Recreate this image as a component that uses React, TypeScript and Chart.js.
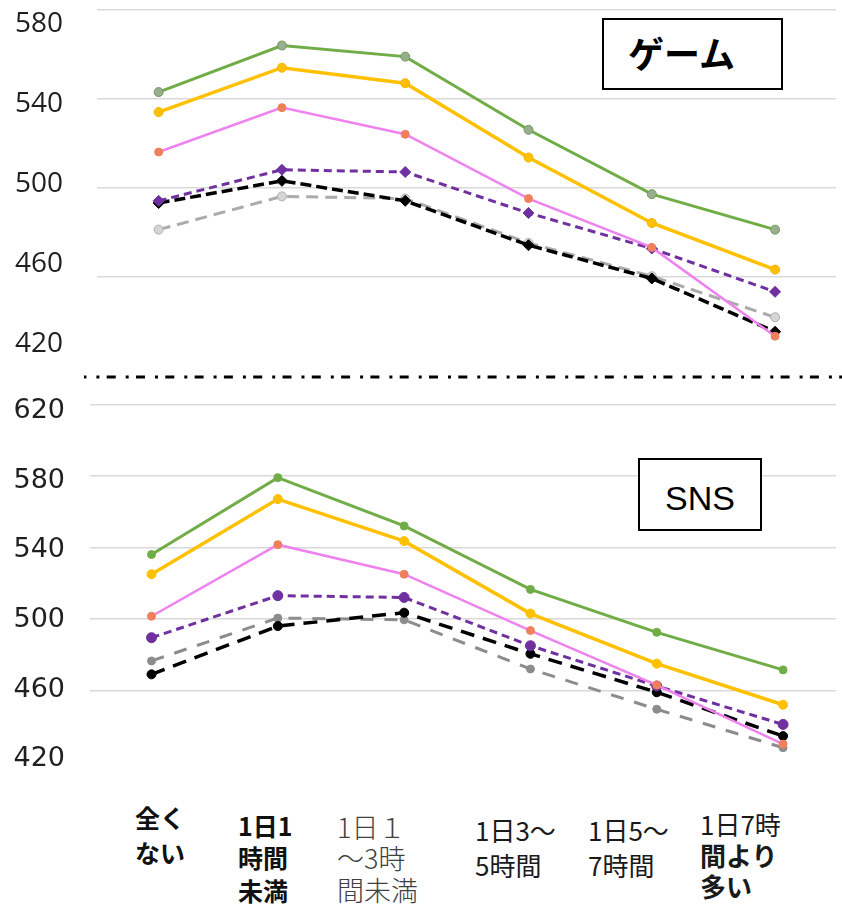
import React, { useEffect, useRef } from "react";
import { Chart, registerables } from "chart.js";

Chart.register(...registerables);

// ---------- data ----------
const categoryIndex = [0, 1, 2, 3, 4, 5];
const categoryLines = [
  ["全く", "ない"],
  ["1日1", "時間", "未満"],
  ["1日１", "～3時", "間未満"],
  ["1日3～", "5時間"],
  ["1日5～", "7時間"],
  ["1日7時", "間より", "多い"],
];
const gameTicks = [420, 460, 500, 540, 580];
const snsTicks = [420, 460, 500, 540, 580, 620];

const gameGreen = [543, 564, 559, 526, 497, 481];
const gameYellow = [534, 554, 547, 513.5, 484, 463];
const gamePink = [516, 536, 524, 495, 473, 433];
const gamePurple = [494, 508, 507, 488.5, 472.5, 453];
const gameBlack = [493, 503, 494, 474, 459, 435];
const gameGray = [481, 496, 495, 475, 460, 441.5];

const snsGreen = [536, 579, 552, 516.5, 492.5, 471.5];
const snsYellow = [525, 567, 543.5, 503, 475, 452];
const snsPink = [501.5, 541.5, 525, 493.5, 463, 430];
const snsPurple = [489.5, 513, 512, 485, 462.5, 441];
const snsBlack = [469, 496, 503.5, 480.5, 459, 434.5];
const snsGray = [476.5, 500.5, 499.5, 472, 449.5, 428];

// ---------- styles ----------
type Style = {
  color: string;
  width: number;
  dash: number[];
  pointBg: string;
  pointBorder: string;
  pointStyle: string;
  radius: number;
};

const gameStyles: Style[] = [
  { color: "#70AD47", width: 3, dash: [], pointBg: "#9AAE8E", pointBorder: "#6F9A5A", pointStyle: "circle", radius: 4.5 },
  { color: "#FFC000", width: 3.5, dash: [], pointBg: "#FFC000", pointBorder: "#F0B400", pointStyle: "circle", radius: 4.5 },
  { color: "#EE82EE", width: 2.5, dash: [], pointBg: "#F07F5C", pointBorder: "#F07F5C", pointStyle: "circle", radius: 4 },
  { color: "#7030A0", width: 3, dash: [8, 5], pointBg: "#7030A0", pointBorder: "#7030A0", pointStyle: "rectRot", radius: 5.5 },
  { color: "#000000", width: 3.5, dash: [11, 5], pointBg: "#000000", pointBorder: "#000000", pointStyle: "rectRot", radius: 5.5 },
  { color: "#ABABAB", width: 3, dash: [12, 7], pointBg: "#D6D6D6", pointBorder: "#ABABAB", pointStyle: "circle", radius: 4.5 },
];

const snsStyles: Style[] = [
  { color: "#70AD47", width: 3, dash: [], pointBg: "#70AD47", pointBorder: "#70AD47", pointStyle: "circle", radius: 4 },
  { color: "#FFC000", width: 3.5, dash: [], pointBg: "#FFC000", pointBorder: "#FFC000", pointStyle: "circle", radius: 4.5 },
  { color: "#EE82EE", width: 2.5, dash: [], pointBg: "#F07F5C", pointBorder: "#F07F5C", pointStyle: "circle", radius: 4 },
  { color: "#7030A0", width: 3, dash: [8, 5], pointBg: "#7030A0", pointBorder: "#7030A0", pointStyle: "circle", radius: 5 },
  { color: "#000000", width: 3.5, dash: [14, 9], pointBg: "#000000", pointBorder: "#000000", pointStyle: "circle", radius: 4.5 },
  { color: "#8C8C8C", width: 3, dash: [13, 11], pointBg: "#8C8C8C", pointBorder: "#8C8C8C", pointStyle: "circle", radius: 4 },
];

const gameSeries = [gameGreen, gameYellow, gamePink, gamePurple, gameBlack, gameGray];
const snsSeries = [snsGreen, snsYellow, snsPink, snsPurple, snsBlack, snsGray];

type PanelProps = {
  top: number;
  height: number;
  padTop: number;
  padBottom: number;
  axisWidth: number;
  labelPad: number;
  fontFamily: string;
  fontSize: number;
  ticks: number[];
  yMin: number;
  yMax: number;
  labelMin: number;
  labelMax: number;
  xMin: number;
  xMax: number;
  series: number[][];
  styles: Style[];
};

function Panel(p: PanelProps) {
  const ref = useRef<HTMLCanvasElement>(null);
  useEffect(() => {
    if (!ref.current) return;
    const setTicks = (scale: any) => {
      scale.ticks = p.ticks.map((v) => ({ value: v }));
    };
    const chart = new Chart(ref.current, {
      type: "line",
      data: {
        datasets: p.series.map((vals, k) => {
          const s = p.styles[k];
          return {
            data: vals.map((v, i) => ({ x: categoryIndex[i], y: v })),
            borderColor: s.color,
            borderWidth: s.width,
            borderDash: s.dash,
            pointRadius: s.radius,
            pointStyle: s.pointStyle as any,
            pointBackgroundColor: s.pointBg,
            pointBorderColor: s.pointBorder,
            pointBorderWidth: 1,
            fill: false,
            tension: 0,
            clip: false as any,
            xAxisID: "x",
            yAxisID: "y",
          };
        }),
      },
      options: {
        animation: false,
        responsive: false,
        events: [],
        layout: { padding: { top: p.padTop, bottom: p.padBottom, left: 0, right: 0 } },
        plugins: { legend: { display: false }, tooltip: { enabled: false } },
        scales: {
          x: { type: "linear", min: p.xMin, max: p.xMax, display: false },
          y: {
            type: "linear",
            position: "right",
            min: p.yMin,
            max: p.yMax,
            afterBuildTicks: setTicks,
            afterFit: (s: any) => {
              s.width = 0;
              s.paddingTop = 0;
              s.paddingBottom = 0;
            },
            grid: {
              color: (c: any) => (c.tick && c.tick.value === p.yMin ? "rgba(0,0,0,0)" : "#D9D9D9"),
              lineWidth: 1.5,
              drawTicks: false,
            },
            border: { display: false },
            ticks: { display: false },
          },
          yLabels: {
            type: "linear",
            axis: "y",
            position: "left",
            min: p.labelMin,
            max: p.labelMax,
            afterBuildTicks: setTicks,
            afterFit: (s: any) => {
              s.width = p.axisWidth;
              s.paddingTop = 0;
              s.paddingBottom = 0;
            },
            grid: { display: false, drawTicks: false },
            border: { display: false },
            ticks: {
              padding: p.labelPad,
              color: "#1f1f1f",
              autoSkip: false,
              font: { family: p.fontFamily, size: p.fontSize },
            },
          },
        } as any,
      },
    });
    return () => chart.destroy();
  }, []);
  return (
    <canvas
      ref={ref}
      width={842}
      height={p.height}
      style={{ position: "absolute", left: 0, top: p.top, width: 842, height: p.height }}
    />
  );
}

// ---------- x label layout ----------
const labelCols = [
  { left: 135, top: 800, lh: 34.5, size: 25, weights: [700, 700], color: "#111" },
  { left: 238, top: 809, lh: 32.3, size: 25, weights: [700, 700, 700], color: "#111" },
  { left: 337, top: 810.5, lh: 31.8, size: 27, weights: [300, 300, 300], color: "#404040" },
  { left: 475, top: 812, lh: 35, size: 26, weights: [400, 400], color: "#1a1a1a" },
  { left: 588, top: 812, lh: 35, size: 26, weights: [400, 400], color: "#1a1a1a" },
  { left: 700, top: 809, lh: 30.8, size: 26, weights: [400, 600, 700], color: "#1a1a1a" },
];

export default function App() {
  const cjk = '"Noto Sans CJK JP", "Noto Sans", sans-serif';
  return (
    <div
      style={{
        position: "absolute",
        left: 0,
        top: 0,
        width: 842,
        height: 907,
        background: "#fff",
        overflow: "hidden",
      }}
    >
      <Panel
        top={0}
        height={372}
        padTop={10}
        padBottom={7}
        axisWidth={97}
        labelPad={34}
        fontFamily='"Open Sans", sans-serif'
        fontSize={28}
        ticks={gameTicks}
        yMin={420}
        yMax={580}
        labelMin={409.4}
        labelMax={586.9}
        xMin={-0.5}
        xMax={5.49}
        series={gameSeries}
        styles={gameStyles}
      />
      <Panel
        top={380}
        height={400}
        padTop={24.3}
        padBottom={18}
        axisWidth={90}
        labelPad={25}
        fontFamily='"DejaVu Sans", sans-serif'
        fontSize={27}
        ticks={snsTicks}
        yMin={420}
        yMax={620}
        labelMin={418.55}
        labelMax={623.9}
        xMin={-0.487}
        xMax={5.419}
        series={snsSeries}
        styles={snsStyles}
      />

      <svg
        width={842}
        height={8}
        style={{ position: "absolute", left: 0, top: 373 }}
      >
        <line
          x1={84}
          y1={4}
          x2={842}
          y2={4}
          stroke="#000"
          strokeWidth={3}
          strokeDasharray="9 10 3 7.3"
          strokeDashoffset={6.6}
        />
      </svg>

      <div
        style={{
          position: "absolute",
          left: 602,
          top: 18,
          width: 181,
          height: 72,
          boxSizing: "border-box",
          border: "2px solid #000",
          background: "#fff",
        }}
      />
      <div
        style={{
          position: "absolute",
          left: 628,
          top: 34,
          fontFamily: cjk,
          fontWeight: 700,
          fontSize: 36,
          lineHeight: "36px",
          color: "#000",
          whiteSpace: "nowrap",
        }}
      >
        ゲーム
      </div>

      <div
        style={{
          position: "absolute",
          left: 638,
          top: 458,
          width: 124,
          height: 73,
          boxSizing: "border-box",
          border: "2px solid #000",
          background: "#fff",
        }}
      />
      <div
        style={{
          position: "absolute",
          left: 665,
          top: 481,
          fontFamily: '"Liberation Sans", Arial, sans-serif',
          fontSize: 34,
          lineHeight: "34px",
          color: "#000",
          whiteSpace: "nowrap",
        }}
      >
        SNS
      </div>

      {categoryLines.map((lines, ci) => {
        const c = labelCols[ci];
        return (
          <div
            key={ci}
            style={{
              position: "absolute",
              left: c.left,
              top: c.top,
              fontFamily: cjk,
              fontSize: c.size,
              lineHeight: c.lh + "px",
              color: c.color,
              whiteSpace: "nowrap",
            }}
          >
            {lines.map((t, li) => (
              <div key={li} style={{ fontWeight: c.weights[li] }}>
                {t}
              </div>
            ))}
          </div>
        );
      })}
    </div>
  );
}
